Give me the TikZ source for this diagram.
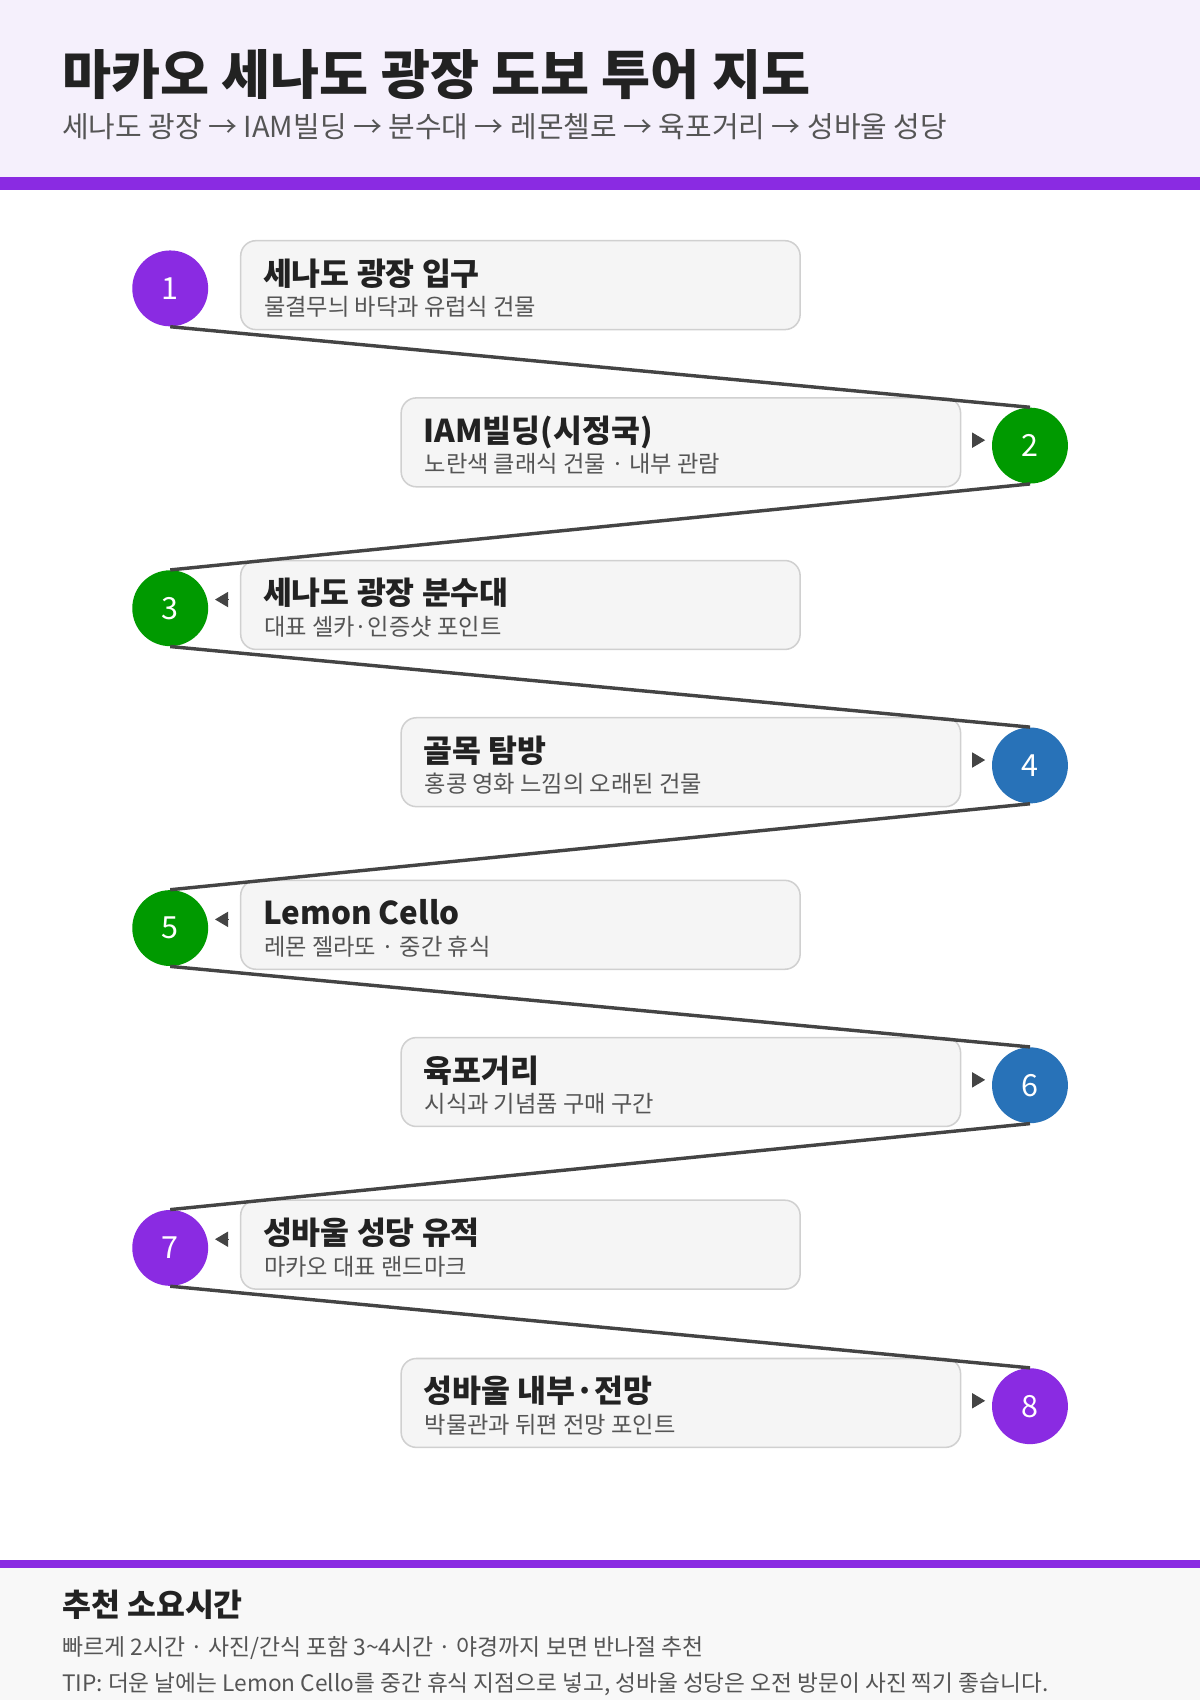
\documentclass[tikz,border=0pt]{standalone}
\usepackage{fontspec}
\setmainfont{Noto Sans CJK KR}
\usepackage{tikz}
\usetikzlibrary{positioning, arrows.meta, calc}
\definecolor{tourpurple}{HTML}{8A2BE2}
\definecolor{tourgreen}{HTML}{009A00}
\definecolor{tourblue}{HTML}{2872B8}
\definecolor{headbg}{HTML}{F5F0FC}
\definecolor{footbg}{HTML}{F8F8F8}
\definecolor{boxbg}{HTML}{F5F5F5}
\definecolor{boxline}{HTML}{D0D0D0}
\definecolor{inkdark}{HTML}{222222}
\definecolor{inkgray}{HTML}{555555}
\definecolor{linkgray}{HTML}{444444}

\begin{document}
\begin{tikzpicture}[
 x=0.02cm, y=-0.02cm,
 stop/.style={circle, minimum size=70*0.02cm, inner sep=0pt, text=white, font=\fontsize{16}{18}\selectfont},
 card/.style={draw=boxline, fill=boxbg, rounded corners=8pt, line width=0.8pt, minimum width=516*0.02cm, minimum height=82*0.02cm},
 cardtitle/.style={anchor=base west, inner sep=0pt, text=inkdark, font=\fontsize{16.5}{18}\selectfont\bfseries},
 cardsub/.style={anchor=base west, inner sep=0pt, text=inkgray, font=\fontsize{12.2}{14}\selectfont},
 link/.style={draw=linkgray, line width=1.8pt},
 marker/.style={-{Triangle[length=12*0.02cm, width=14*0.02cm]}, draw=linkgray, fill=linkgray, line width=0.5pt}
 ]

  % Frame, header and footer
  \useasboundingbox (0,0) rectangle (1107,1568);
  \fill[white] (0,0) rectangle (1107,1568);
  \fill[headbg] (0,0) rectangle (1107,163);
  \fill[tourpurple] (0,163) rectangle (1107,175);
  \fill[footbg] (0,1446) rectangle (1107,1568);
  \fill[tourpurple] (0,1439) rectangle (1107,1446);

  \node[anchor=base west, inner sep=0pt, text=inkdark, font=\fontsize{28}{30}\selectfont\bfseries] (title) at (57,87) {마카오 세나도 광장 도보 투어 지도};
  \node[anchor=base west, inner sep=0pt, text=inkgray, font=\fontsize{15.2}{17}\selectfont] (subtitle) at (57,127) {세나도 광장 → IAM빌딩 → 분수대 → 레몬첼로 → 육포거리 → 성바울 성당};

  % Stops
  \foreach \i/\y/\cx/\bx/\col/\head/\sub in {
    1/266/157/480/tourpurple/세나도 광장 입구/물결무늬 바닥과 유럽식 건물,
    2/411/950/628/tourgreen/IAM빌딩(시정국)/노란색 클래식 건물 · 내부 관람,
    3/561/157/480/tourgreen/세나도 광장 분수대/대표 셀카·인증샷 포인트,
    4/706/950/628/tourblue/골목 탐방/홍콩 영화 느낌의 오래된 건물,
    5/856/157/480/tourgreen/Lemon Cello/레몬 젤라또 · 중간 휴식,
    6/1001/950/628/tourblue/육포거리/시식과 기념품 구매 구간,
    7/1151/157/480/tourpurple/성바울 성당 유적/마카오 대표 랜드마크,
    8/1297/950/628/tourpurple/성바울 내부·전망/박물관과 뒤편 전망 포인트}{
    \node[stop, fill=\col] (c\i) at (\cx,\y) {\i};
    \node[card] (b\i) at (\bx,\y-3) {};
    \node[cardtitle] (t\i) at ($(b\i.west)+(21,0)$) {\head};
    \node[cardsub] (s\i) at ($(b\i.west)+(22,28)$) {\sub};
  }

  % Zigzag links
  \foreach \i [evaluate=\i as \j using int(\i+1)] in {1,...,7}{
    \draw[link] (c\i.south) -- (c\j.north);
  }

  % Markers beside the stops
  \foreach \i in {2,4,6,8}{
    \draw[marker] ($(c\i.west)+(-18,-5)$) -- ($(c\i.west)+(-6,-5)$);
  }
  \foreach \i in {3,5,7}{
    \draw[marker] ($(c\i.east)+(18,-8)$) -- ($(c\i.east)+(6,-8)$);
  }

  % Footer text
  \node[anchor=base west, inner sep=0pt, text=inkdark, font=\fontsize{16.5}{18}\selectfont\bfseries] (foothead) at (57,1491) {추천 소요시간};
  \node[anchor=base west, inner sep=0pt, text=inkgray, font=\fontsize{12}{14}\selectfont] (footline) at (57,1527) {빠르게 2시간 · 사진/간식 포함 3\textasciitilde 4시간 · 야경까지 보면 반나절 추천};
  \node[anchor=base west, inner sep=0pt, text=inkgray, font=\fontsize{11.9}{14}\selectfont] (foottip) at (57,1560) {TIP: 더운 날에는 Lemon Cello를 중간 휴식 지점으로 넣고, 성바울 성당은 오전 방문이 사진 찍기 좋습니다.};

\end{tikzpicture}
\end{document}
